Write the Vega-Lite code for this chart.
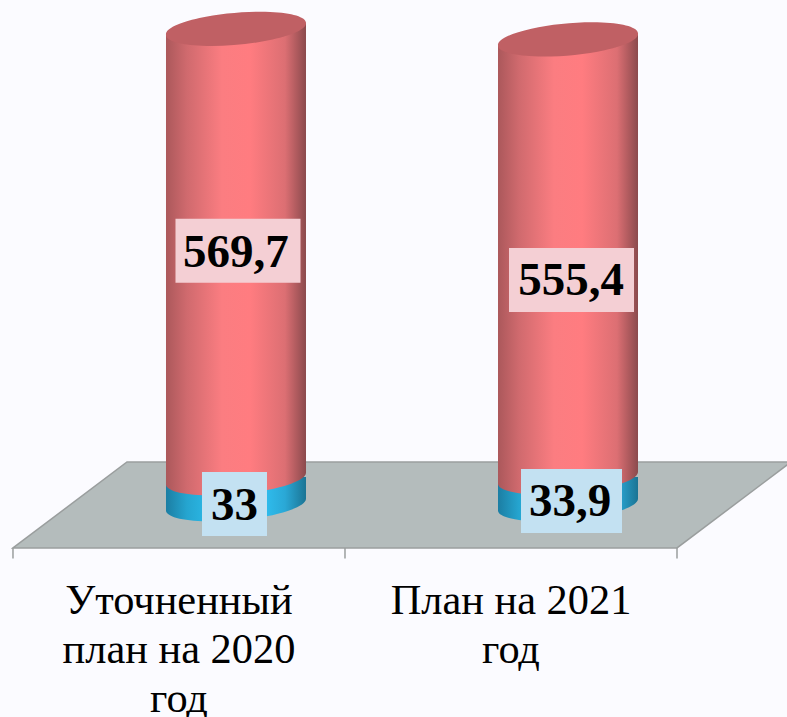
{"$schema":"https://vega.github.io/schema/vega-lite/v6.json","width":787,"height":717,"padding":0,"autosize":"none","background":"#fbfbff","view":{"stroke":null},
"datasets":{
"bars":[{"category":"Уточненный\nплан на 2020\nгод","i":0,"series":"blue","start":0,"end":33,"label":"33"},{"category":"Уточненный\nплан на 2020\nгод","i":0,"series":"red","start":33,"end":602.7,"label":"569,7"},{"category":"План на 2021\nгод","i":1,"series":"blue","start":0,"end":33.9,"label":"33,9"},{"category":"План на 2021\nгод","i":1,"series":"red","start":33.9,"end":589.3,"label":"555,4"}],
"floor":[{"i":-0.6717,"y":-54.4,"y2":-54.4},{"i":-0.3283,"y":54.4,"y2":-54.4},{"i":1.3283,"y":54.4,"y2":-54.4},{"i":1.6717,"y":54.4,"y2":54.4}],
"ticks":[{"i":-0.6717,"y":-54.4,"y2":-67.7},{"i":0.3283,"y":-54.4,"y2":-67.7},{"i":1.3283,"y":-54.4,"y2":-67.7}]},
"encoding":{"x":{"field":"i","type":"quantitative","scale":{"domain":[-0.7108,1.6596],"nice":false,"zero":false,"padding":0},"axis":null},"y":{"field":"end","type":"quantitative","scale":{"domain":[-268.4,639.2],"nice":false,"zero":false},"axis":null}},
"layer":[
{"data":{"name":"floor"},"mark":{"type":"area","fill":"#b4bcbc","stroke":"#9a9e9e","strokeWidth":1.5,"clip":true},"encoding":{"y":{"field":"y","type":"quantitative"},"y2":{"field":"y2"}}},
{"data":{"name":"ticks"},"mark":{"type":"rule","stroke":"#9a9e9e","strokeWidth":1.5},"encoding":{"y":{"field":"y","type":"quantitative"},"y2":{"field":"y2"}}},
{"data":{"name":"bars"},"transform":[{"filter":"datum.series==='blue'"}],"layer":[
{"mark":{"type":"point","filled":true,"opacity":1,"size":19600,"shape":"M -1 -0.4 L 1 -0.4 L 1 -0.0875 A 1.004 0.225 -5 0 1 -1 0.0875 Z","fill":{"gradient":"linear","x1":0,"x2":1,"y1":0,"y2":0,"stops":[{"offset":0,"color":"#1c7ea3"},{"offset":0.15,"color":"#25a5d0"},{"offset":0.4,"color":"#2fc4f4"},{"offset":0.6,"color":"#33ccff"},{"offset":0.85,"color":"#2aa8d6"},{"offset":1,"color":"#1b7494"}]}},"encoding":{"y":{"field":"start","type":"quantitative"}}},
{"mark":{"type":"bar","size":140,"y2Offset":-20,"yOffset":0,"fill":{"gradient":"linear","x1":0,"x2":1,"y1":0,"y2":0,"stops":[{"offset":0,"color":"#1c7ea3"},{"offset":0.15,"color":"#25a5d0"},{"offset":0.4,"color":"#2fc4f4"},{"offset":0.6,"color":"#33ccff"},{"offset":0.85,"color":"#2aa8d6"},{"offset":1,"color":"#1b7494"}]}},"encoding":{"y2":{"field":"start"}}}
]},
{"data":{"name":"bars"},"transform":[{"filter":"datum.series==='red'"}],"layer":[
{"mark":{"type":"point","filled":true,"opacity":1,"size":19600,"shape":"M -1 -0.4 L 1 -0.4 L 1 -0.0875 A 1.004 0.225 -5 0 1 -1 0.0875 Z","fill":{"gradient":"linear","x1":0,"x2":1,"y1":0,"y2":0,"stops":[{"offset":0,"color":"#ab585b"},{"offset":0.15,"color":"#d06a6e"},{"offset":0.4,"color":"#fb7d81"},{"offset":0.6,"color":"#ff7c80"},{"offset":0.85,"color":"#dc6f73"},{"offset":1,"color":"#8b4a4d"}]}},"encoding":{"y":{"field":"start","type":"quantitative"}}},
{"mark":{"type":"bar","size":140,"yOffset":20,"y2Offset":-20,"fill":{"gradient":"linear","x1":0,"x2":1,"y1":0,"y2":0,"stops":[{"offset":0,"color":"#ab585b"},{"offset":0.15,"color":"#d06a6e"},{"offset":0.4,"color":"#fb7d81"},{"offset":0.6,"color":"#ff7c80"},{"offset":0.85,"color":"#dc6f73"},{"offset":1,"color":"#8b4a4d"}]}},"encoding":{"y2":{"field":"start"}}},
{"mark":{"type":"point","filled":true,"opacity":1,"size":19600,"shape":"M -1 0.0875 L 1 -0.0875 L 1 0.4 L -1 0.4 Z","fill":{"gradient":"linear","x1":0,"x2":1,"y1":0,"y2":0,"stops":[{"offset":0,"color":"#ab585b"},{"offset":0.15,"color":"#d06a6e"},{"offset":0.4,"color":"#fb7d81"},{"offset":0.6,"color":"#ff7c80"},{"offset":0.85,"color":"#dc6f73"},{"offset":1,"color":"#8b4a4d"}]}}},
{"mark":{"type":"point","filled":true,"opacity":1,"size":19600,"fill":"#c06064","shape":"M -1 0.0875 A 1.004 0.225 -5 1 1 1 -0.0875 A 1.004 0.225 -5 1 1 -1 0.0875 Z"}}
]},
{"data":{"name":"bars"},"transform":[{"filter":"datum.label==='569,7'"}],"layer":[
{"mark":{"type":"point","filled":true,"opacity":1,"size":10000,"fill":"#f4cfd4","yOffset":222,"xOffset":2,"shape":"M -1.25 -0.64 L 1.25 -0.64 L 1.25 0.64 L -1.25 0.64 Z"}},
{"mark":{"type":"text","font":"Liberation Serif","fontWeight":"bold","fontSize":47,"baseline":"middle","yOffset":224,"xOffset":0,"fill":"#000"},"encoding":{"text":{"field":"label"}}}
]},
{"data":{"name":"bars"},"transform":[{"filter":"datum.label==='555,4'"}],"layer":[
{"mark":{"type":"point","filled":true,"opacity":1,"size":10000,"fill":"#f4cfd4","yOffset":240.5,"xOffset":3.5,"shape":"M -1.25 -0.64 L 1.25 -0.64 L 1.25 0.64 L -1.25 0.64 Z"}},
{"mark":{"type":"text","font":"Liberation Serif","fontWeight":"bold","fontSize":47,"baseline":"middle","yOffset":241.5,"xOffset":3,"fill":"#000"},"encoding":{"text":{"field":"label"}}}
]},
{"data":{"name":"bars"},"transform":[{"filter":"datum.label==='33'"}],"layer":[
{"mark":{"type":"point","filled":true,"opacity":1,"size":10000,"fill":"#c3e1f2","yOffset":25,"xOffset":-1.5,"shape":"M -0.65 -0.64 L 0.65 -0.64 L 0.65 0.64 L -0.65 0.64 Z"}},
{"mark":{"type":"text","font":"Liberation Serif","fontWeight":"bold","fontSize":47,"baseline":"middle","yOffset":27.5,"xOffset":-1.5,"fill":"#000"},"encoding":{"text":{"field":"label"}}}
]},
{"data":{"name":"bars"},"transform":[{"filter":"datum.label==='33,9'"}],"layer":[
{"mark":{"type":"point","filled":true,"opacity":1,"size":10000,"fill":"#c3e1f2","yOffset":22.8,"xOffset":3.5,"shape":"M -1.01 -0.64 L 1.01 -0.64 L 1.01 0.64 L -1.01 0.64 Z"}},
{"mark":{"type":"text","font":"Liberation Serif","fontWeight":"bold","fontSize":47,"baseline":"middle","yOffset":24,"xOffset":2,"fill":"#000"},"encoding":{"text":{"field":"label"}}}
]},
{"data":{"name":"bars"},"transform":[{"filter":"datum.series==='blue'"}],"mark":{"type":"text","font":"Liberation Serif","fontSize":42.4,"lineBreak":"\n","lineHeight":49,"baseline":"top","xOffset":-57,"yOffset":76,"fill":"#000"},"encoding":{"text":{"field":"category"},"y":{"field":"start","type":"quantitative"}}}
]}
